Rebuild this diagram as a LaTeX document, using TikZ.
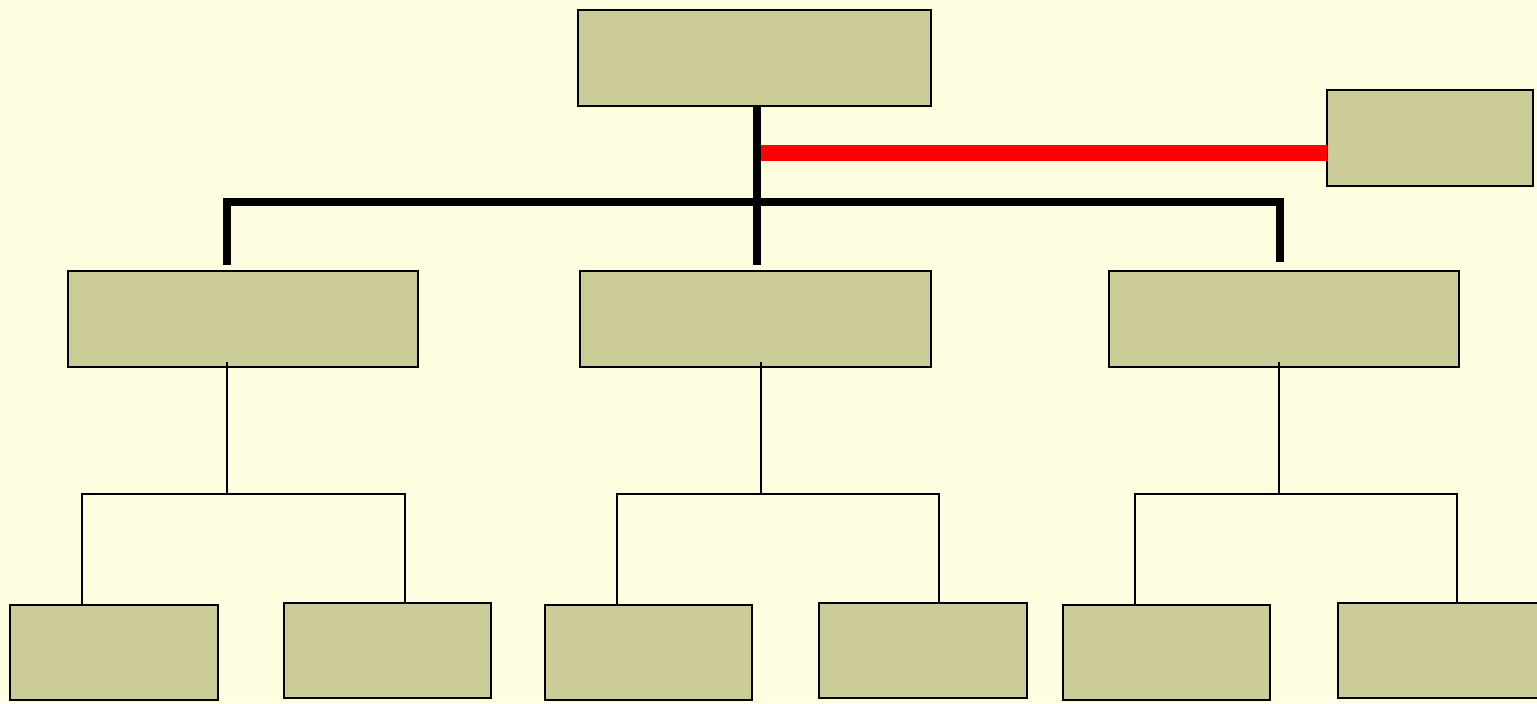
\documentclass[tikz,border=0pt]{standalone}
\usetikzlibrary{calc}
\definecolor{bgc}{HTML}{FFFDE0}
\definecolor{boxc}{HTML}{CCCC99}
\definecolor{redc}{HTML}{FF0000}
\begin{document}
\begin{tikzpicture}[x=0.02cm,y=-0.02cm,
  box/.style={draw=black,fill=boxc,line width=1.5pt,inner sep=0pt,outer sep=0pt,rectangle},
  thick line/.style={draw=black,line width=4.6pt,line join=miter},
  red line/.style={draw=redc,line width=9.6pt},
  thin line/.style={draw=black,line width=1.6pt,line join=miter}]
\fill[bgc] (0,0) rectangle (1537,703);
\useasboundingbox (0,0) rectangle (1537,703);
% boxes
\node[box,minimum width=7.06cm,minimum height=1.92cm] (top) at (754.5,58) {};
\node[box,minimum width=4.12cm,minimum height=1.92cm] (side) at (1430,138) {};
\node[box,minimum width=7.00cm,minimum height=1.92cm] (m1) at (243,319) {};
\node[box,minimum width=7.02cm,minimum height=1.92cm] (m2) at (755.5,319) {};
\node[box,minimum width=7.00cm,minimum height=1.92cm] (m3) at (1284,319) {};
\node[box,minimum width=4.16cm,minimum height=1.90cm] (b1) at (114,652.5) {};
\node[box,minimum width=4.14cm,minimum height=1.90cm] (b2) at (387.5,650.5) {};
\node[box,minimum width=4.14cm,minimum height=1.90cm] (b3) at (648.5,652.5) {};
\node[box,minimum width=4.16cm,minimum height=1.90cm] (b4) at (923,650.5) {};
\node[box,minimum width=4.14cm,minimum height=1.90cm] (b5) at (1166.5,652.5) {};
\node[box,minimum width=4.14cm,minimum height=1.90cm] (b6) at (1441.5,650.5) {};
% thick trunk
\coordinate (t1) at (757,106);
\coordinate (t2) at (757,265);
\coordinate (rs) at (757,153);
\coordinate (hl) at (227,202);
\coordinate (hr) at (1280,202);
\coordinate (dl) at (227,265);
\coordinate (dr) at (1280,262);
\draw[red line] (rs) -- (rs -| side.west);
\draw[thick line] (top.south -| t1) -- (t2);
\draw[thick line] (dl) -- (hl) -- (hr) -- (dr);
% thin brackets
\foreach \n/\cx/\l/\r/\lb/\rb in {m1/227/82/405/b1/b2, m2/761/617/939/b3/b4, m3/1279/1135/1457/b5/b6}{
  \coordinate (\n s) at (\cx,362);
  \coordinate (\n j) at (\cx,494);
  \coordinate (\n l) at (\l,494);
  \coordinate (\n r) at (\r,494);
  \draw[thin line] (\n s) -- (\n j);
  \draw[thin line] (\lb.north -| \n l) -- (\n l) -- (\n r) -- (\rb.north -| \n r);
}
\end{tikzpicture}
\end{document}
